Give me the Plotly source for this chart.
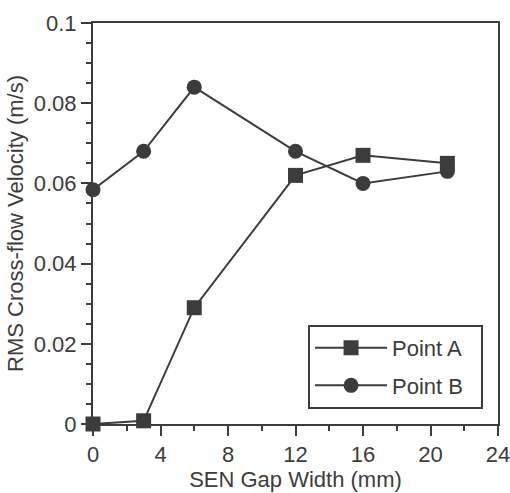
import plotly.graph_objects as go

gap_width = [0, 3, 6, 12, 16, 21]
point_a = [0.0, 0.0008, 0.029, 0.062, 0.067, 0.065]
point_b = [0.0584, 0.068, 0.084, 0.068, 0.060, 0.063]
x_ticks = [0, 4, 8, 12, 16, 20, 24]
y_ticks = [0, 0.02, 0.04, 0.06, 0.08, 0.1]
y_tick_labels = ["0", "0.02", "0.04", "0.06", "0.08", "0.1"]

ink = "#3c3c3c"
font = "Liberation Sans, Arial, Helvetica, sans-serif"
nb = "\u00a0"

fig = go.Figure()
fig.add_trace(go.Scatter(
    x=gap_width, y=point_a, name="Point A" + nb * 2, mode="lines+markers",
    line=dict(color=ink, width=2),
    marker=dict(symbol="square", size=15, color=ink),
    cliponaxis=False, legendgroup="a",
))
fig.add_trace(go.Scatter(
    x=gap_width, y=point_b, name="Point B" + nb * 2, mode="lines+markers",
    line=dict(color=ink, width=2),
    marker=dict(symbol="circle", size=15, color=ink),
    cliponaxis=False, legendgroup="b",
))

axis_common = dict(
    showgrid=False, zeroline=False, showline=True, linecolor=ink, linewidth=2,
    mirror=True, ticks="outside", tickcolor=ink, tickwidth=2, ticklen=10,
    tickfont=dict(family=font, size=22, color=ink), automargin=False,
    ticklabeloverflow="allow",
)

fig.update_layout(
    width=510, height=493,
    margin=dict(l=93, r=12, t=23, b=69),
    paper_bgcolor="white", plot_bgcolor="white",
    font=dict(family=font, size=22, color=ink),
    xaxis=dict(
        range=[0, 24], tickvals=x_ticks,
        title=dict(text="SEN Gap Width (mm)", font=dict(family=font, size=22, color=ink), standoff=2),
        minor=dict(dtick=2, tick0=0, ticks="outside", ticklen=5, tickwidth=2, tickcolor=ink),
        **axis_common,
    ),
    yaxis=dict(
        range=[0, 0.1], tickvals=y_ticks, ticktext=y_tick_labels,
        title=dict(text="RMS Cross-flow Velocity (m/s)", font=dict(family=font, size=22, color=ink), standoff=4),
        minor=dict(dtick=0.005, tick0=0, ticks="outside", ticklen=5, tickwidth=2, tickcolor=ink),
        **axis_common,
    ),
    showlegend=True,
    legend=dict(
        x=0.531, y=0.247, xanchor="left", yanchor="top",
        bordercolor=ink, borderwidth=2, bgcolor="white",
        font=dict(family=font, size=22, color=ink),
        traceorder="grouped", tracegroupgap=6, itemwidth=72,
    ),
)

fig.write_html(
    "out.html",
    config={"displayModeBar": False},
    post_script="document.body.style.margin='0';document.body.style.overflow='hidden';",
)
